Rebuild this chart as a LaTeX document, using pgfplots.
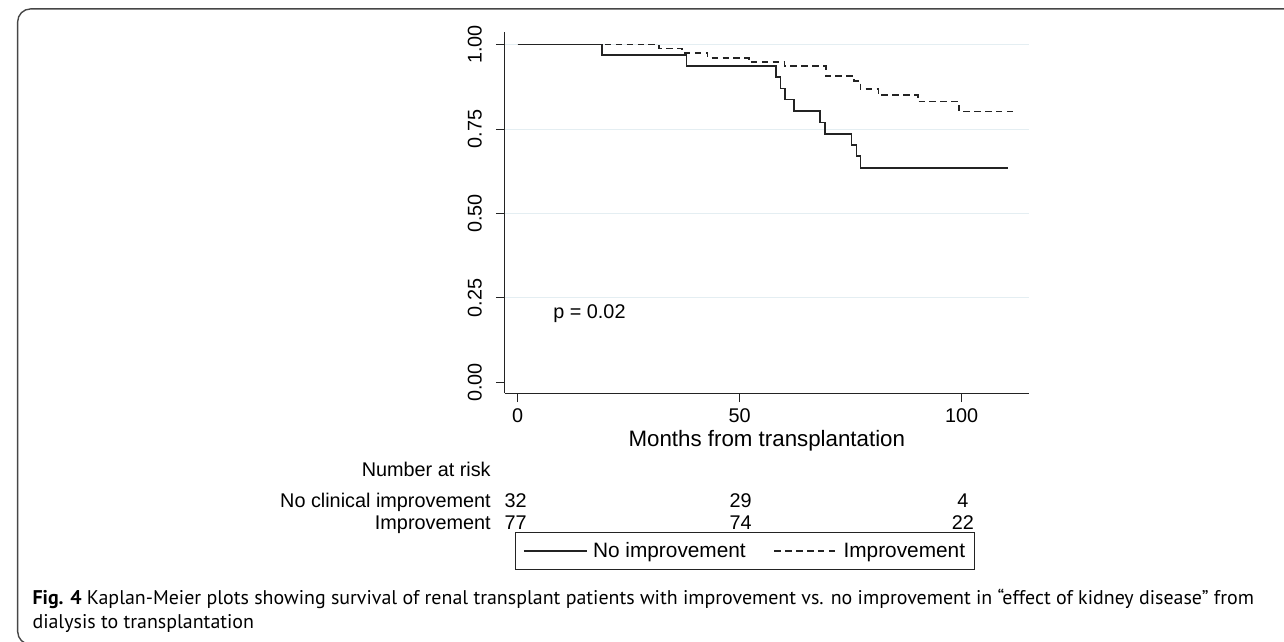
\documentclass[border=0pt]{standalone}
\usepackage{fontspec}
\setmainfont{Liberation Sans}
\newfontfamily\capfont{PT Sans}
\usepackage{pgfplots}
\pgfplotsset{compat=1.18}
\usepackage{graphicx}
\definecolor{gridc}{RGB}{228,238,242}
\definecolor{axc}{RGB}{35,35,35}
\definecolor{framec}{RGB}{70,70,70}
\newsavebox\capA
\newsavebox\capB
\newlength\capw
\begin{document}
\sbox\capA{\capfont\fontsize{20}{20}\selectfont\textbf{Fig. 4} Kaplan-Meier plots showing survival of renal transplant patients with improvement vs. no improvement in “effect of kidney disease” from}
\sbox\capB{\capfont\fontsize{20}{20}\selectfont dialysis to transplantation}
\setlength\capw{\wd\capA}
\pgfmathsetmacro\capscale{1232/\capw}
\begin{tikzpicture}[x=1pt,y=1pt]
\useasboundingbox (0,0) rectangle (1284,647);
\draw[framec, line width=1.4pt, rounded corners=13pt] (1290,638) -- (6.7,638) -- (6.7,-3) -- (30,-3);
\begin{axis}[
  at={(498pt,250.3pt)}, anchor=south west,
  scale only axis, width=528.7pt, height=364.7pt,
  xmin=-2.90, xmax=115.16, ymin=-0.0323, ymax=1.0382,
  axis x line*=bottom, axis y line*=left,
  axis line style={axc, line width=1.1pt},
  every tick/.style={axc, line width=1.1pt},
  tick align=outside, major tick length=9pt,
  xtick={0,50,100}, ytick={0,0.25,0.5,0.75,1},
  yticklabels={0.00,0.25,0.50,0.75,1.00},
  /pgf/number format/assume math mode=true,
  tick label style={font=\fontsize{20}{20}\selectfont},
  x tick label style={yshift=-3pt},
  y tick label style={xshift=-10.5pt, rotate=90, anchor=south},
  extra y ticks={0.25,0.5,0.75,1},
  extra y tick labels={},
  extra y tick style={grid=major, major tick length=0pt},
  major grid style={gridc, line width=1pt},
  xlabel={Months from transplantation},
  xlabel style={at={(axis description cs:0.5,-0.148)}, anchor=base, font=\fontsize{22.5}{22.5}\selectfont},
  clip=false,
  legend columns=2,
  legend style={at={(0.0189,-0.3847)}, anchor=north west, draw=axc, line width=1pt,
    font=\fontsize{21}{21}\selectfont, inner xsep=8pt, inner ysep=8pt,
    /tikz/every odd column/.append style={column sep=3pt},
    /tikz/every even column/.append style={column sep=26pt}},
  legend image code/.code={\draw[#1] (0pt,0pt) -- (64pt,0pt);},
]
\addplot[const plot, axc, line width=1.6pt] coordinates {
(0,1) (19.0,0.969) (38.0,0.9375) (58.2,0.904) (59.2,0.870) (60.2,0.838) (62.3,0.804)
(68.1,0.770) (69.2,0.735) (75.2,0.703) (76.3,0.670) (77.2,0.635) (110.5,0.635)};
\addlegendentry{No improvement}
\addplot[const plot, axc, line width=1.6pt, dash pattern=on 6.5pt off 4.5pt] coordinates {
(0,1) (31.8,0.988) (37.0,0.976) (42.8,0.961) (52.1,0.948) (60.1,0.936) (69.4,0.907)
(75.7,0.893) (77.2,0.868) (81.3,0.850) (90.2,0.831) (99.4,0.802) (112.2,0.802)};
\addlegendentry{Improvement}
\node[anchor=base west, inner sep=0pt, font=\fontsize{20}{20}\selectfont] at (axis cs:8.0,0.19) {p = 0.02};
\end{axis}
\begin{scope}[every node/.style={inner sep=0pt, font=\fontsize{20}{20}\selectfont}]
\node[anchor=base east] at (484,166) {Number at risk};
\node[anchor=base east] at (484,135) {No clinical improvement};
\node[anchor=base east] at (484,112.5) {Improvement};
\node[anchor=base] at (509,135) {32};
\node[anchor=base] at (736,135) {29};
\node[anchor=base] at (960,135) {4};
\node[anchor=base] at (509,112.5) {77};
\node[anchor=base] at (736,112.5) {74};
\node[anchor=base] at (960,112.5) {22};
\end{scope}
\node[anchor=base west, inner sep=0pt] at (21.5,37) {\scalebox{\capscale}[1]{\usebox\capA}};
\node[anchor=base west, inner sep=0pt] at (21.5,13) {\scalebox{\capscale}[1]{\usebox\capB}};
\end{tikzpicture}
\end{document}
